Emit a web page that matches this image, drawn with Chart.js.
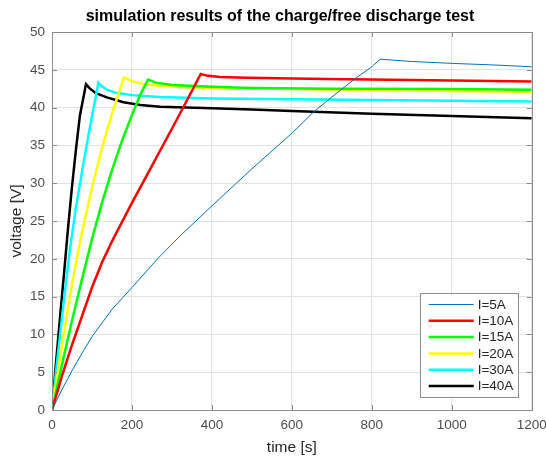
<!DOCTYPE html>
<html>
<head>
<meta charset="utf-8">
<script src="https://cdn.jsdelivr.net/npm/chart.js@4.4.0/dist/chart.umd.min.js"></script>
<style>
  html, body { margin: 0; padding: 0; background: #fff; }
  #wrap { width: 546px; height: 457px; }
</style>
</head>
<body>
<div id="wrap"><canvas id="chart" width="546" height="457"></canvas></div>
<script>
// time [s] / voltage [V]
var t5  = [0, 25, 50, 75, 100, 150, 200, 264, 320, 400, 500, 600, 654, 700, 760, 800, 821, 900, 1000, 1100, 1200];
var v5  = [0, 2.7, 5.2, 7.5, 9.7, 13.3, 16.2, 20.0, 23.0, 27.0, 31.9, 36.6, 39.4, 41.4, 43.9, 45.4, 46.4, 46.1, 45.85, 45.65, 45.4];

var t10 = [0, 25, 50, 100, 125, 150, 200, 250, 300, 350, 372, 390, 420, 487, 600, 737, 900, 1200];
var v10 = [0, 4.5, 8.6, 16.2, 19.5, 22.3, 27.4, 32.3, 37.2, 42.2, 44.45, 44.2, 44.05, 43.95, 43.85, 43.75, 43.65, 43.45];

var t15 = [0, 25, 50, 75, 100, 125, 150, 175, 200, 220, 240, 260, 300, 400, 500, 700, 1000, 1200];
var v15 = [0, 6.0, 11.8, 17.3, 22.6, 27.4, 31.7, 35.6, 39.0, 41.6, 43.7, 43.3, 43.0, 42.75, 42.6, 42.5, 42.45, 42.35];

var t20 = [0, 25, 50, 75, 100, 125, 150, 180, 200, 230, 271, 330, 450, 600, 800, 1000, 1200];
var v20 = [0, 8.6, 16.6, 23.5, 29.4, 34.6, 39.2, 44.0, 43.5, 43.1, 42.85, 42.7, 42.55, 42.45, 42.3, 42.2, 42.1];

var t30 = [0, 15, 30, 45, 60, 75, 90, 105, 116, 125, 140, 160, 200, 270, 400, 600, 800, 1000, 1200];
var v30 = [0, 7.5, 14.6, 21.3, 26.8, 31.5, 36.0, 40.2, 43.3, 42.8, 42.3, 41.95, 41.65, 41.4, 41.2, 41.1, 41.0, 40.9, 40.8];

var t40 = [0, 10, 20, 30, 40, 50, 60, 70, 85, 95, 110, 137, 179, 221, 271, 400, 500, 600, 800, 1000, 1200];
var v40 = [0, 6.2, 12.2, 18.0, 24.0, 29.5, 34.5, 39.0, 43.1, 42.5, 41.9, 41.35, 40.7, 40.35, 40.1, 39.9, 39.75, 39.55, 39.2, 38.9, 38.6];

var seriesLabels = ['I=5A', 'I=10A', 'I=15A', 'I=20A', 'I=30A', 'I=40A'];
var seriesColors = ['#0072BD', '#FF0000', '#00FF00', '#FFFF00', '#00FFFF', '#000000'];
var seriesWidths = [1, 2.5, 2.5, 2.5, 2.5, 2.5];

var xTicks = [0, 200, 400, 600, 800, 1000, 1200];
var yTicks = [0, 5, 10, 15, 20, 25, 30, 35, 40, 45, 50];

var FONT = '"Liberation Sans", Arial, Helvetica, sans-serif';

function pts(ts, vs) {
    return ts.map(function (t, i) { return { x: t, y: vs[i] }; });
}

var allT = [t5, t10, t15, t20, t30, t40];
var allV = [v5, v10, v15, v20, v30, v40];

var datasets = allT.map(function (ts, i) {
    return {
        label: seriesLabels[i],
        data: pts(ts, allV[i]),
        borderColor: seriesColors[i],
        backgroundColor: seriesColors[i],
        borderWidth: seriesWidths[i],
        pointRadius: 0,
        tension: 0,
        fill: false
    };
});

// box round the axes plus the inward ticks, like matlab
var boxPlugin = {
    id: 'box',
    afterDatasetsDraw: function (chart) {
        var ctx = chart.ctx;
        var a = chart.chartArea;
        var xs = chart.scales.x;
        var ys = chart.scales.y;
        ctx.save();
        ctx.strokeStyle = '#8c8c8c';
        ctx.lineWidth = 1;
        ctx.beginPath();
        xTicks.forEach(function (v) {
            var px = Math.round(xs.getPixelForValue(v)) + 0.5;
            ctx.moveTo(px, a.bottom); ctx.lineTo(px, a.bottom - 5);
            ctx.moveTo(px, a.top); ctx.lineTo(px, a.top + 5);
        });
        yTicks.forEach(function (v) {
            var py = Math.round(ys.getPixelForValue(v)) + 0.5;
            ctx.moveTo(a.left, py); ctx.lineTo(a.left + 5, py);
            ctx.moveTo(a.right, py); ctx.lineTo(a.right - 5, py);
        });
        ctx.stroke();
        ctx.strokeRect(Math.round(a.left) + 0.5, Math.round(a.top) + 0.5,
            Math.round(a.right - a.left), Math.round(a.bottom - a.top));
        ctx.restore();
    }
};

// legend box inside the axes, lower right
var legendPlugin = {
    id: 'boxLegend',
    afterDraw: function (chart) {
        var ctx = chart.ctx;
        var a = chart.chartArea;
        var w = 98, h = 104, rowH = 16.3;
        var left = a.right - 14 - w;
        var top = a.bottom - 13 - h;
        ctx.save();
        ctx.fillStyle = '#ffffff';
        ctx.fillRect(left, top, w, h);
        ctx.strokeStyle = '#8c8c8c';
        ctx.lineWidth = 1;
        ctx.strokeRect(Math.round(left) + 0.5, Math.round(top) + 0.5, w, h);
        ctx.font = '13.5px ' + FONT;
        ctx.textBaseline = 'middle';
        chart.data.datasets.forEach(function (ds, i) {
            var y = top + 11.5 + i * rowH;
            ctx.strokeStyle = ds.borderColor;
            ctx.lineWidth = ds.borderWidth;
            ctx.beginPath();
            ctx.moveTo(left + 9, y);
            ctx.lineTo(left + 54, y);
            ctx.stroke();
            ctx.fillStyle = '#262626';
            ctx.fillText(ds.label, left + 58, y + 0.5);
        });
        ctx.restore();
    }
};

var ctx = document.getElementById('chart').getContext('2d');
new Chart(ctx, {
    type: 'line',
    data: { datasets: datasets },
    plugins: [boxPlugin, legendPlugin],
    options: {
        responsive: false,
        animation: false,
        // left padding only nudges the centred title towards the axes
        layout: { padding: { left: 14, right: 0, top: 0, bottom: 0 } },
        plugins: {
            legend: { display: false },
            tooltip: { enabled: false },
            title: {
                display: true,
                text: 'simulation results of the charge/free discharge test',
                color: '#000000',
                font: { family: FONT, size: 16, weight: 'bold' },
                padding: { top: 7, bottom: 5.8 }
            }
        },
        scales: {
            x: {
                type: 'linear',
                min: 0,
                max: 1200,
                afterBuildTicks: function (scale) {
                    scale.ticks = xTicks.map(function (v) { return { value: v }; });
                },
                afterFit: function (scale) {
                    scale.height = 47;
                    scale.paddingRight = 14.3;
                },
                grid: { color: '#e3e3e3', drawTicks: false },
                border: { display: false },
                ticks: {
                    color: '#4d4d4d',
                    font: { family: FONT, size: 13.5 },
                    padding: 7,
                    maxRotation: 0,
                    callback: function (v) { return String(v); }
                },
                title: {
                    display: true,
                    text: 'time [s]',
                    color: '#262626',
                    font: { family: FONT, size: 15.5 },
                    padding: { top: 2, bottom: 0 }
                }
            },
            y: {
                type: 'linear',
                min: 0,
                max: 50,
                afterBuildTicks: function (scale) {
                    scale.ticks = yTicks.map(function (v) { return { value: v }; });
                },
                afterFit: function (scale) { scale.width = 38; },
                grid: { color: '#e3e3e3', drawTicks: false },
                border: { display: false },
                ticks: {
                    color: '#4d4d4d',
                    font: { family: FONT, size: 13.5 },
                    padding: 7,
                    callback: function (v) { return String(v); }
                },
                title: {
                    display: true,
                    text: 'voltage [V]',
                    color: '#262626',
                    font: { family: FONT, size: 15.5 },
                    padding: { top: -7, bottom: 0 }
                }
            }
        }
    }
});
</script>
</body>
</html>
